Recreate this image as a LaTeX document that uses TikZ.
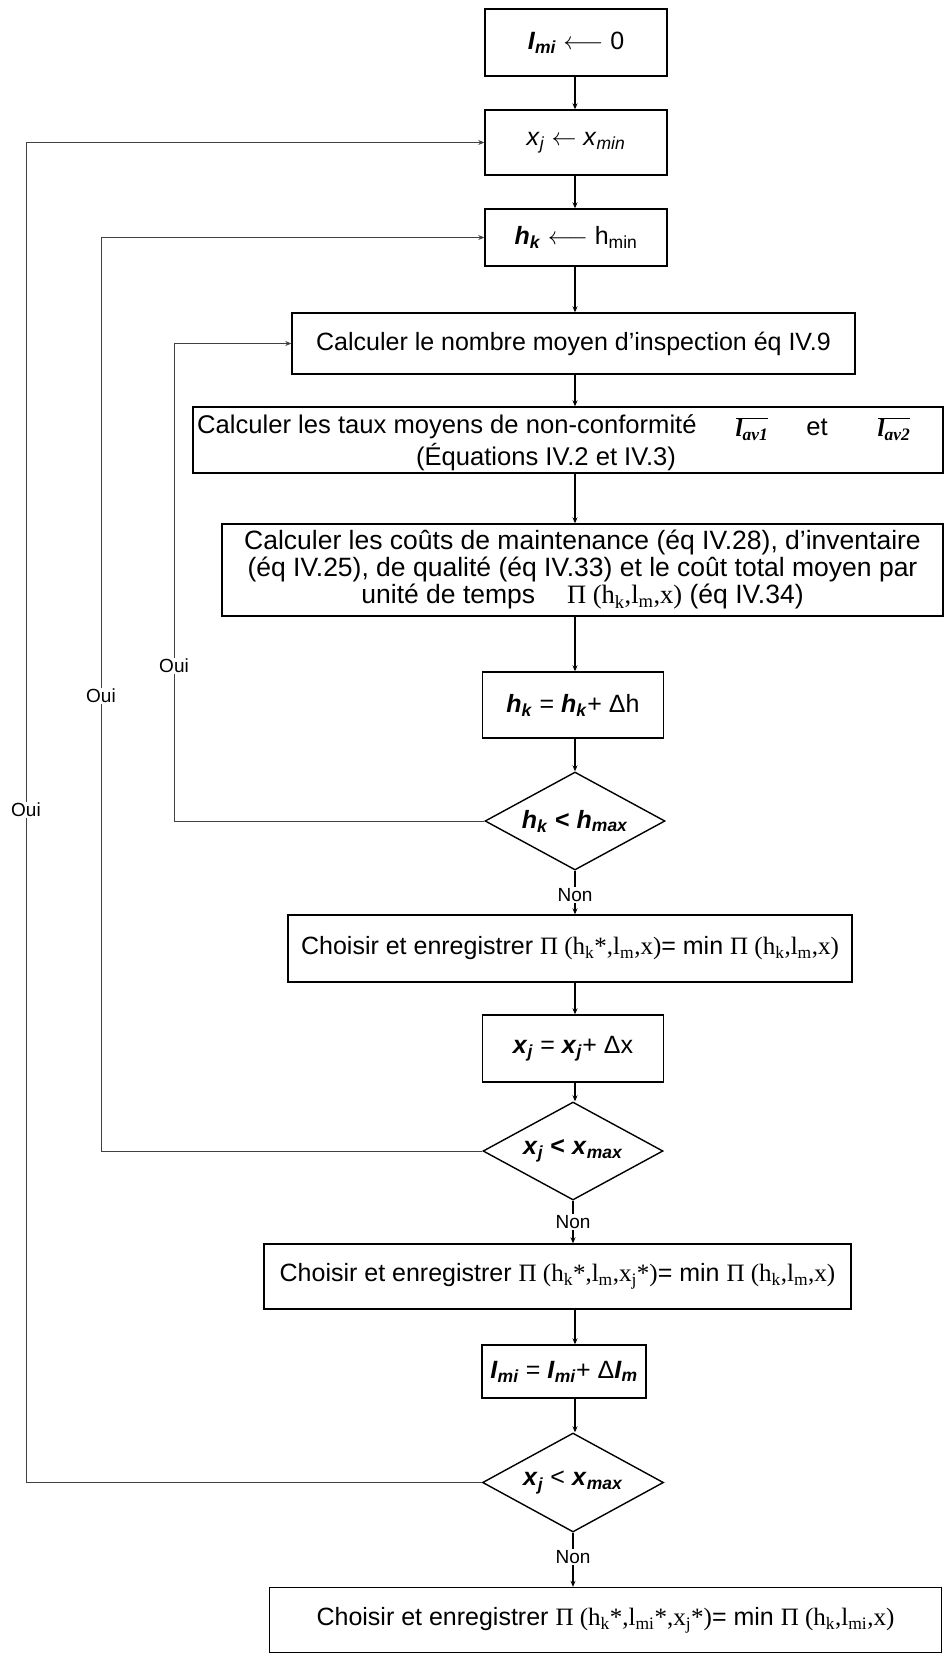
\documentclass[tikz,border=0pt]{standalone}
\usepackage{fontspec}
\setmainfont{Liberation Sans}
\newfontfamily\serifP{Liberation Serif}
\usetikzlibrary{shapes.geometric,arrows.meta}
\newcommand\bi[1]{\textbf{\textit{#1}}}
\newcommand\sub[1]{\textsubscript{#1}}
\newcommand\sr[1]{{\serifP #1}}
\newcommand\lav[1]{$\overline{\mbox{\serifP\bfseries\itshape l\textsubscript{av#1}}}$}
\begin{document}
\begin{tikzpicture}[x=1pt,y=-1pt,
  every node/.style={font=\fontsize{25}{26}\selectfont},
  box/.style={draw, line width=1.4pt, inner sep=0pt, align=center},
  dia/.style={draw, diamond, aspect=1.84, line width=1.4pt, inner sep=0pt},
  arr/.style={-{Stealth[length=6pt,width=5pt]}, line width=1.2pt},
  loopline/.style={-{Stealth[length=6pt,width=5pt]}, line width=0.8pt, black!75},
  lab/.style={fill=white, inner sep=1.5pt, font=\fontsize{19}{22}\selectfont},
  midtext/.style={font=\fontsize{25.6}{27}\selectfont},
  bigtext/.style={font=\fontsize{26.5}{27}\selectfont},
]
\useasboundingbox (0,0) rectangle (945,1655);
\fill[white] (0,0) rectangle (945,1655);
\coordinate (col) at (575,0);
\coordinate (c1) at (174,0);
\coordinate (c2) at (101,0);
\coordinate (c3) at (26,0);

\node[box, minimum width=182, minimum height=67] (b1) at (576,42.5) {\bi{I}\sub{\bi{mi}} $\longleftarrow$ 0};
\node[box, minimum width=182, minimum height=65] (b2) at (576,142.5) {\textit{x}\sub{\textit{j}} $\leftarrow$ \textit{x}\sub{\textit{min}}};
\node[box, minimum width=182, minimum height=57] (b3) at (576,237.5) {\bi{h}\sub{\bi{k}} $\longleftarrow$ h\sub{min}};
\node[box, minimum width=563, minimum height=61] (b4) at (573.5,343.5) {Calculer le nombre moyen d'inspection éq IV.9};
\node[box, minimum width=750, minimum height=66] (b5) at (568,440) {};
\node[anchor=west, inner sep=0pt, midtext] (t5a) at (197,427) {Calculer les taux moyens de non-conformité};
\node[inner sep=0pt] (t5b) at (752,429) {\lav{1}};
\node[inner sep=0pt, midtext] (t5c) at (817,427) {et};
\node[inner sep=0pt, midtext] (t5e) at (546,457) {(Équations IV.2 et IV.3)};
\node[inner sep=0pt] (t5d) at (894,429) {\lav{2}};
\node[box, bigtext, minimum width=721, minimum height=92] (b6) at (582.5,570) {Calculer les coûts de maintenance (éq IV.28), d'inventaire\\(éq IV.25), de qualité (éq IV.33) et le coût total moyen par\\unité de temps\hspace{1.2em}\sr{Π (h\sub{k},l\sub{m},x)} (éq IV.34)};
\node[box, minimum width=181, minimum height=66] (b7) at (573,705) {\bi{h}\sub{\bi{k}} = \bi{h}\sub{\bi{k}}+ Δh};
\node[dia, minimum width=180, minimum height=98] (d1) at (575,821) {\bi{h}\sub{\bi{k}} \textbf{<} \bi{h}\sub{\bi{max}}};
\node[box, minimum width=564, minimum height=67] (b8) at (570,948.5) {Choisir et enregistrer \sr{Π (h\sub{k}*,l\sub{m},x)}= min \sr{Π (h\sub{k},l\sub{m},x)}};
\node[box, minimum width=181, minimum height=67] (b9) at (573,1048.5) {\bi{x}\sub{\bi{j}} = \bi{x}\sub{\bi{j}}+ Δx};
\node[dia, minimum width=180, minimum height=98] (d2) at (573,1151) {\bi{x}\sub{\bi{j}} \textbf{<} \bi{x}\sub{\bi{max}}};
\node[box, minimum width=587, minimum height=65] (b10) at (557.5,1276.5) {Choisir et enregistrer \sr{Π (h\sub{k}*,l\sub{m},x\sub{j}*)}= min \sr{Π (h\sub{k},l\sub{m},x)}};
\node[box, minimum width=164, minimum height=53] (b11) at (564,1371.5) {\bi{I}\sub{\bi{mi}} = \bi{I}\sub{\bi{mi}}+ Δ\bi{I}\sub{\bi{m}}};
\node[dia, minimum width=181, minimum height=99] (d3) at (573,1482.5) {\bi{x}\sub{\bi{j}} < \bi{x}\sub{\bi{max}}};
\node[box, minimum width=672, minimum height=65] (b12) at (605.5,1620) {Choisir et enregistrer \sr{Π (h\sub{k}*,l\sub{mi}*,x\sub{j}*)}= min \sr{Π (h\sub{k},l\sub{mi},x)}};

\draw[arr] (b1.south -| col) -- (b2.north -| col);
\draw[arr] (b2.south -| col) -- (b3.north -| col);
\draw[arr] (b3.south -| col) -- (b4.north -| col);
\draw[arr] (b4.south -| col) -- (b5.north -| col);
\draw[arr] (b5.south -| col) -- (b6.north -| col);
\draw[arr] (b6.south -| col) -- (b7.north -| col);
\draw[arr] (b7.south -| col) -- (d1.north -| col);
\draw[arr] (d1.south) -- node[lab, pos=0.55]{Non} (b8.north -| d1);
\draw[arr] (b8.south -| col) -- (b9.north -| col);
\draw[arr] (b9.south -| col) -- (d2.north -| col);
\draw[arr] (d2.south) -- node[lab]{Non} (b10.north -| d2);
\draw[arr] (b10.south -| col) -- (b11.north -| col);
\draw[arr] (b11.south -| col) -- (d3.north -| col);
\draw[arr] (d3.south) -- node[lab, pos=0.45]{Non} (b12.north -| d3);

\draw[loopline] (d1.west) -- (d1.west -| c1) -- (b4.west -| c1) -- (b4.west);
\draw[loopline] (d2.west) -- (d2.west -| c2) -- (b3.west -| c2) -- (b3.west);
\draw[loopline] (d3.west) -- (d3.west -| c3) -- (b2.west -| c3) -- (b2.west);
\node[lab] (o1) at (174,666) {Oui};
\node[lab] (o2) at (101,696) {Oui};
\node[lab] (o3) at (26,810) {Oui};
\end{tikzpicture}
\end{document}
